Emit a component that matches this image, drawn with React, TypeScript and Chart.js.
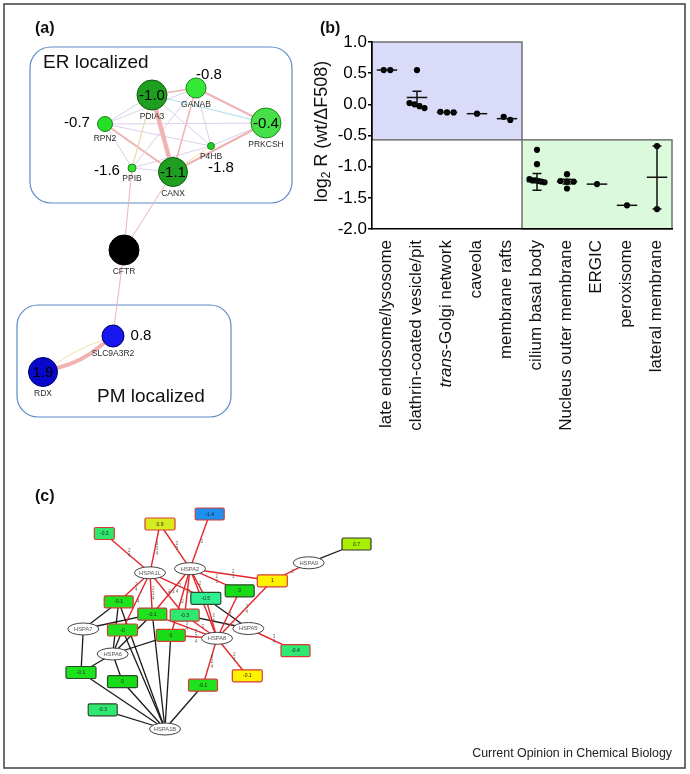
import React, { useEffect, useRef } from "react";
import { Chart, registerables } from "chart.js";

Chart.register(...registerables);

const FONT = "'Liberation Sans', Arial, Helvetica, sans-serif";

// ---------------- Panel (b): log2 R per localisation ----------------
const locations = [
  "late endosome/lysosome",
  "clathrin-coated vesicle/pit",
  "trans-Golgi network",
  "caveola",
  "membrane rafts",
  "cilium basal body",
  "Nucleus outer membrane",
  "ERGIC",
  "peroxisome",
  "lateral membrane",
];
const italicPrefixes = ["", "", "trans", "", "", "", "", "", "", ""];
const log2R: number[][] = [
  [0.55, 0.55],
  [0.55, 0.02, -0.06, -0.03, 0.0],
  [-0.13, -0.13, -0.12],
  [-0.15],
  [-0.25, -0.2],
  [-0.73, -0.96, -1.2, -1.22, -1.23, -1.24, -1.25, -1.22],
  [-1.12, -1.23, -1.24, -1.24, -1.35],
  [-1.28],
  [-1.62],
  [-0.67, -1.68],
];
const meanLog2R = [0.55, 0.11, -0.13, -0.15, -0.23, -1.24, -1.24, -1.28, -1.62, -1.17];
const errLow: (number | null)[] = [null, 0.0, null, null, null, -1.38, -1.28, null, null, -1.68];
const errHigh: (number | null)[] = [null, 0.21, null, null, null, -1.11, -1.2, null, null, -0.67];
const yMin = -2.0;
const yMax = 1.0;
const yStep = 0.5;
// shaded groups: [first category, last category + 1], value range
const shadeFrom = [0, 5];
const shadeTo = [5, 10];
const shadeTop = [1.0, -0.57];
const shadeBottom = [-0.57, -2.0];
const shadeFill = ["#dadaf9", "#dbf9db"];

// ---------------- Panel (a): ER / PM interaction network ----------------
const erNodes = ["PDIA3", "GANAB", "PRKCSH", "RPN2", "P4HB", "PPIB", "CANX", "CFTR", "SLC9A3R2", "RDX"];
const erX = [152, 196, 266, 105, 211, 132, 173, 124, 113, 43];
const erY = [95, 88, 123, 124, 146, 168, 172, 250, 336, 372];
const erSize = [15, 10, 15, 7.5, 3.5, 4, 14.5, 15, 11, 14.5];
const erValue: (number | null)[] = [-1.0, -0.8, -0.4, -0.7, -1.8, -1.6, -1.1, null, 0.8, 1.9];
const erFill = ["#1f9f1f", "#35e835", "#48e048", "#25de25", "#22cc22", "#33dd33", "#1f9f1f", "#000000", "#1616ee", "#0808cc"];
const erStroke = ["#0c5c0c", "#1a8a1a", "#1a8a1a", "#1a8a1a", "#1a8a1a", "#1a8a1a", "#0c5c0c", "#000000", "#000066", "#000066"];
const erValueDX = [0, 13, 0, -28, 10, -25, 0, 0, 28, 0];
const erValueDY = [0, -14, 0, -2, 21, 2, 0, 0, -1, 0];

const PINK = "#efb3b3";
const LILAC = "#dcd0ea";
const SKY = "#abdfee";
const STRAW = "#f2e1a2";
const erEdgeFrom = [0, 0, 0, 0, 0, 0, 1, 1, 1, 1, 1, 3, 3, 3, 6, 6, 6, 5, 4, 3, 5, 5, 6, 7, 8, 8];
const erEdgeTo = [6, 1, 3, 5, 4, 2, 2, 6, 4, 3, 5, 6, 4, 2, 2, 4, 5, 4, 2, 5, 7, 0, 7, 8, 9, 9];
const erEdgeColor = [PINK, PINK, LILAC, STRAW, LILAC, SKY, PINK, PINK, LILAC, LILAC, LILAC, PINK, LILAC, LILAC, PINK, STRAW, LILAC, LILAC, LILAC, LILAC, PINK, LILAC, PINK, PINK, PINK, STRAW];
const erEdgeWidth = [4.5, 1.5, 1, 1, 1, 1, 2, 1.5, 1, 1, 1, 2, 1, 1, 2, 1, 1, 1, 1, 1, 1, 1, 1, 1, 4, 1];
const erEdgeBend = [0, 0, 0, 0, 0, 0, 0, 0, 0, 0, 0, 0, 0, 0, 0, 0, 0, 0, 0, 0, 0, 0, 0, 0, -6, 3];

const compartments = ["ER localized", "PM localized"];
const compLeft = [30, 17];
const compTop = [47, 305];
const compRight = [292, 231];
const compBottom = [203, 417];
const compTextX = [43, 97];
const compTextY = [68, 402];

// ---------------- Panel (c): HSP70 family network ----------------
const hspGenes = ["HSPA1L", "HSPA2", "HSPA9", "HSPA7", "HSPA8", "HSPA5", "HSPA6", "HSPA1B"];
const hspX = [150, 190, 308.7, 83.3, 217, 248.3, 112.7, 165];
const hspY = [572.8, 568.7, 562.8, 629, 638.3, 628.5, 654, 729];
const tgtLabels = ["-0.3", "0.9", "-1.4", "0.7", "1", "0", "-0.5", "-0.1", "-0.1", "-0.3", "-0", "0", "-0.4", "-0.1", "0", "-0.1", "-0.1", "-0.3"];
const tgtX = [104.3, 160, 209.7, 356.5, 272.3, 239.7, 205.8, 118.7, 152.3, 184.7, 122.5, 170.8, 295.5, 81, 122.5, 247.3, 203, 102.7];
const tgtY = [533.5, 524, 514, 544, 580.8, 590.8, 598.3, 601.8, 614.2, 615.2, 630, 635.3, 650.7, 672.5, 681.7, 675.8, 685.2, 709.8];
const tgtW = [20, 30, 29, 29, 30, 29, 30, 29, 29, 29, 30, 29, 29, 30, 30, 30, 29, 29];
const tgtFill = ["#2ee86c", "#d7ec1f", "#1f8ff0", "#a8f000", "#fff200", "#18dc18", "#2ef091", "#1ee21e", "#1ee21e", "#2ee870", "#1ee21e", "#18dc18", "#2ee870", "#1ee21e", "#18dc18", "#fff200", "#1ee21e", "#2ee870"];
const tgtStroke = ["#d83a3a", "#d83a3a", "#d83a3a", "#333333", "#d83a3a", "#2a4a2a", "#2a4a2a", "#d83a3a", "#b83a3a", "#d83a3a", "#d83a3a", "#d83a3a", "#d83a3a", "#2a4a2a", "#2a4a2a", "#d83a3a", "#d83a3a", "#2a4a2a"];

const redEdgeFrom = ["HSPA1L", "HSPA1L", "HSPA2", "HSPA2", "HSPA2", "HSPA2", "HSPA2", "HSPA2", "HSPA2", "HSPA2", "HSPA1L", "HSPA1L", "HSPA1L", "HSPA1L", "HSPA1L", "HSPA8", "HSPA8", "HSPA8", "HSPA8", "HSPA8", "HSPA8", "HSPA8", "HSPA8", "HSPA5", "HSPA9", "HSPA2"];
const redEdgeTo = ["t0", "t1", "t1", "t2", "t4", "t5", "t6", "t8", "t9", "t11", "t7", "t10", "t8", "t9", "t6", "t4", "t5", "t6", "t9", "t11", "t8", "t15", "t16", "t12", "t4", "HSPA8"];
const redEdgeText = ["2\n4", "3\n3\n4", "2\n3", "3", "2\n3", "2\n3", "2", "2 3 4", "3", "2", "2\n4", "4", "2\n3\n4", "3", "2", "2\n4", "2", "3\n4", "3", "2\n3\n4", "3\n4", "2\n4", "3\n2\n4", "3\n4", "2", "3"];
const blackEdgeFrom = ["HSPA9", "HSPA5", "HSPA5", "HSPA7", "HSPA7", "HSPA7", "HSPA6", "HSPA6", "HSPA6", "HSPA6", "HSPA6", "HSPA6", "HSPA1B", "HSPA1B", "HSPA1B", "HSPA1B", "HSPA1B", "HSPA1B", "HSPA1B", "HSPA1B"];
const blackEdgeTo = ["t3", "t6", "t9", "t7", "t8", "t13", "t7", "t10", "t8", "t11", "t13", "t14", "t7", "t10", "t8", "t11", "t13", "t14", "t17", "t16"];

const FRAME = [4, 4, 685, 768];
const footer = "Current Opinion in Chemical Biology";

// ---------------- helpers ----------------
function roundRectPath(ctx: CanvasRenderingContext2D, x0: number, y0: number, x1: number, y1: number, r: number) {
  ctx.beginPath();
  ctx.moveTo(x0 + r, y0);
  ctx.lineTo(x1 - r, y0);
  ctx.arcTo(x1, y0, x1, y0 + r, r);
  ctx.lineTo(x1, y1 - r);
  ctx.arcTo(x1, y1, x1 - r, y1, r);
  ctx.lineTo(x0 + r, y1);
  ctx.arcTo(x0, y1, x0, y1 - r, r);
  ctx.lineTo(x0, y0 + r);
  ctx.arcTo(x0, y0, x0 + r, y0, r);
  ctx.closePath();
}

function hspPoint(ref: string) {
  if (ref.startsWith("t")) {
    const i = parseInt(ref.slice(1), 10);
    return { x: tgtX[i], y: tgtY[i] };
  }
  const g = hspGenes.indexOf(ref);
  return { x: hspX[g], y: hspY[g] };
}

function swarmOffsets(values: number[]): number[] {
  const idx = values.map((_, i) => i).sort((a, b) => values[b] - values[a]);
  const offsets = new Array(values.length).fill(0);
  let group = [idx[0]];
  const flush = () => {
    const n = group.length;
    const step = n <= 3 ? 0.22 : 0.5 / (n - 1);
    group.forEach((k, j) => (offsets[k] = (j - (n - 1) / 2) * step));
  };
  for (let j = 1; j < idx.length; j++) {
    if (values[idx[j - 1]] - values[idx[j]] <= 0.06) group.push(idx[j]);
    else {
      flush();
      group = [idx[j]];
    }
  }
  flush();
  return offsets;
}

const fmt1 = (v: number) => v.toFixed(1);

// ---------------- network chart (panels a & c + page decorations) ----------------
function networkConfig(): any {
  const datasets: any[] = [];
  datasets.push({
    type: "bubble",
    label: "erNodes",
    data: erNodes.map((_, i) => ({ x: erX[i], y: erY[i], r: erSize[i] })),
    backgroundColor: erFill,
    borderColor: erStroke,
    borderWidth: 1,
    order: 0,
  });
  datasets.push({
    type: "scatter",
    label: "hspGenes",
    data: hspGenes.map((_, i) => ({ x: hspX[i], y: hspY[i] })),
    pointRadius: 0,
    order: 0,
  });
  datasets.push({
    type: "scatter",
    label: "hspTargets",
    data: tgtLabels.map((_, i) => ({ x: tgtX[i], y: tgtY[i] })),
    pointRadius: 0,
    order: 0,
  });
  erEdgeFrom.forEach((f, i) => {
    const t = erEdgeTo[i];
    const a = { x: erX[f], y: erY[f] };
    const b = { x: erX[t], y: erY[t] };
    let data: any[] = [a, b];
    const bend = erEdgeBend[i];
    if (bend !== 0) {
      const dx = b.x - a.x;
      const dy = b.y - a.y;
      const len = Math.hypot(dx, dy);
      data = [a, { x: (a.x + b.x) / 2 - (dy / len) * bend, y: (a.y + b.y) / 2 + (dx / len) * bend }, b];
    }
    datasets.push({
      type: "line",
      data,
      borderColor: erEdgeColor[i],
      borderWidth: erEdgeWidth[i],
      pointRadius: 0,
      fill: false,
      tension: bend !== 0 ? 0.5 : 0,
      order: 2,
    });
  });
  redEdgeFrom.forEach((f, i) => {
    datasets.push({
      type: "line",
      data: [hspPoint(f), hspPoint(redEdgeTo[i])],
      borderColor: "#e3262b",
      borderWidth: 1.4,
      pointRadius: 0,
      fill: false,
      order: 3,
    });
  });
  blackEdgeFrom.forEach((f, i) => {
    datasets.push({
      type: "line",
      data: [hspPoint(f), hspPoint(blackEdgeTo[i])],
      borderColor: "#1a1a1a",
      borderWidth: 1.3,
      pointRadius: 0,
      fill: false,
      order: 4,
    });
  });

  const decor = {
    id: "networkDecor",
    beforeDraw(chart: any) {
      const { ctx } = chart;
      const xs = chart.scales.x;
      const ys = chart.scales.y;
      const px = (v: number) => xs.getPixelForValue(v);
      const py = (v: number) => ys.getPixelForValue(v);
      ctx.save();
      ctx.fillStyle = "#ffffff";
      ctx.fillRect(0, 0, chart.width, chart.height);
      // outer frame
      ctx.strokeStyle = "#4a4a4a";
      ctx.lineWidth = 1.6;
      ctx.strokeRect(px(FRAME[0]), py(FRAME[1]), px(FRAME[2]) - px(FRAME[0]), py(FRAME[3]) - py(FRAME[1]));
      // compartments
      compartments.forEach((name, i) => {
        roundRectPath(ctx, px(compLeft[i]), py(compTop[i]), px(compRight[i]), py(compBottom[i]), 21);
        ctx.strokeStyle = "#5b8cc6";
        ctx.lineWidth = 1.2;
        ctx.stroke();
        ctx.font = `19px ${FONT}`;
        ctx.fillStyle = "#111";
        ctx.textAlign = "left";
        ctx.textBaseline = "alphabetic";
        ctx.fillText(name, px(compTextX[i]), py(compTextY[i]));
      });
      // panel letters
      ctx.font = `bold 16px ${FONT}`;
      ctx.fillStyle = "#111";
      ctx.fillText("(a)", px(35), py(33));
      ctx.fillText("(b)", px(320), py(33));
      ctx.fillText("(c)", px(35), py(501));
      // footer
      ctx.font = `12.4px ${FONT}`;
      ctx.textAlign = "right";
      ctx.fillStyle = "#222";
      ctx.fillText(footer, px(672), py(757));
      ctx.restore();
    },
    afterDatasetsDraw(chart: any) {
      const { ctx } = chart;
      const meta = (label: string) => chart.getDatasetMeta(chart.data.datasets.findIndex((d: any) => d.label === label));
      ctx.save();
      ctx.textAlign = "center";
      ctx.textBaseline = "middle";
      // panel (a) labels
      meta("erNodes").data.forEach((el: any, i: number) => {
        const v = erValue[i];
        if (v !== null) {
          ctx.font = `15px ${FONT}`;
          ctx.fillStyle = "#000";
          ctx.fillText(fmt1(v), el.x + erValueDX[i], el.y + erValueDY[i] + 0.5);
        }
        ctx.font = `8.5px ${FONT}`;
        ctx.fillStyle = "#2a2a2a";
        ctx.fillText(erNodes[i], el.x, el.y + erSize[i] + 7);
      });
      // panel (c) edge labels
      const xs = chart.scales.x;
      const ys = chart.scales.y;
      ctx.font = `4.5px ${FONT}`;
      ctx.fillStyle = "#666";
      redEdgeFrom.forEach((f, i) => {
        const a = hspPoint(f);
        const b = hspPoint(redEdgeTo[i]);
        const mx = xs.getPixelForValue((a.x + b.x) / 2);
        const my = ys.getPixelForValue((a.y + b.y) / 2);
        const lines = redEdgeText[i].split("\n");
        lines.forEach((t, k) => ctx.fillText(t, mx + 2, my + (k - (lines.length - 1) / 2) * 5));
      });
      // gene ellipses
      meta("hspGenes").data.forEach((el: any, i: number) => {
        ctx.beginPath();
        ctx.ellipse(el.x, el.y, 15.5, 6, 0, 0, Math.PI * 2);
        ctx.fillStyle = "#ffffff";
        ctx.fill();
        ctx.strokeStyle = "#444";
        ctx.lineWidth = 1;
        ctx.stroke();
        ctx.font = `5.8px ${FONT}`;
        ctx.fillStyle = "#555";
        ctx.fillText(hspGenes[i], el.x, el.y + 0.3);
      });
      // value boxes
      meta("hspTargets").data.forEach((el: any, i: number) => {
        const w = tgtW[i];
        const h = 12;
        roundRectPath(ctx, el.x - w / 2, el.y - h / 2, el.x + w / 2, el.y + h / 2, 1.5);
        ctx.fillStyle = tgtFill[i];
        ctx.fill();
        ctx.strokeStyle = tgtStroke[i];
        ctx.lineWidth = 1.2;
        ctx.stroke();
        ctx.font = `5px ${FONT}`;
        ctx.fillStyle = "#222";
        ctx.fillText(tgtLabels[i], el.x, el.y + 0.3);
      });
      ctx.restore();
    },
  };

  return {
    type: "scatter",
    data: { datasets },
    options: {
      animation: false,
      responsive: false,
      events: [],
      layout: { autoPadding: false, padding: 0 },
      plugins: { legend: { display: false }, tooltip: { enabled: false } },
      scales: {
        x: { type: "linear", display: false, min: 0, max: 690 },
        y: { type: "linear", display: false, min: 0, max: 774, reverse: true },
      },
    },
    plugins: [decor],
  };
}

// ---------------- panel (b) chart ----------------
function scatterConfig(): any {
  const points: { x: number; y: number }[] = [];
  log2R.forEach((vals, i) => {
    const off = swarmOffsets(vals);
    vals.forEach((v, k) => points.push({ x: i + 0.5 + off[k], y: v }));
  });

  const decor = {
    id: "bDecor",
    beforeDraw(chart: any) {
      const { ctx } = chart;
      const xs = chart.scales.x;
      const ys = chart.scales.y;
      ctx.save();
      shadeFrom.forEach((f, i) => {
        const x0 = xs.getPixelForValue(f);
        const x1 = xs.getPixelForValue(shadeTo[i]);
        const y0 = ys.getPixelForValue(shadeTop[i]);
        const y1 = ys.getPixelForValue(shadeBottom[i]);
        ctx.fillStyle = shadeFill[i];
        ctx.fillRect(x0, y0, x1 - x0, y1 - y0);
        ctx.strokeStyle = "#707070";
        ctx.lineWidth = 1.5;
        ctx.strokeRect(x0, y0, x1 - x0, y1 - y0);
      });
      ctx.restore();
    },
    afterDatasetsDraw(chart: any) {
      const { ctx } = chart;
      const xs = chart.scales.x;
      const ys = chart.scales.y;
      ctx.save();
      ctx.strokeStyle = "#111";
      ctx.lineWidth = 1.5;
      const unit = xs.getPixelForValue(1) - xs.getPixelForValue(0);
      meanLog2R.forEach((m, i) => {
        const cx = xs.getPixelForValue(i + 0.5);
        const hw = unit * 0.34;
        ctx.beginPath();
        ctx.moveTo(cx - hw, ys.getPixelForValue(m));
        ctx.lineTo(cx + hw, ys.getPixelForValue(m));
        ctx.stroke();
        const lo = errLow[i];
        const hi = errHigh[i];
        if (lo !== null && hi !== null) {
          const cw = unit * 0.15;
          const yl = ys.getPixelForValue(lo);
          const yh = ys.getPixelForValue(hi);
          ctx.beginPath();
          ctx.moveTo(cx, yl);
          ctx.lineTo(cx, yh);
          ctx.moveTo(cx - cw, yl);
          ctx.lineTo(cx + cw, yl);
          ctx.moveTo(cx - cw, yh);
          ctx.lineTo(cx + cw, yh);
          ctx.stroke();
        }
      });
      // category labels (rotated)
      const labelTop = chart.chartArea.bottom + 11;
      ctx.fillStyle = "#111";
      ctx.textBaseline = "middle";
      locations.forEach((name, i) => {
        const cx = xs.getPixelForValue(i + 0.5) - 1;
        const pre = italicPrefixes[i];
        const rest = name.slice(pre.length);
        ctx.save();
        ctx.translate(cx, labelTop);
        ctx.rotate(-Math.PI / 2);
        ctx.font = `italic 17px ${FONT}`;
        const w1 = pre ? ctx.measureText(pre).width : 0;
        ctx.font = `17px ${FONT}`;
        const w2 = ctx.measureText(rest).width;
        ctx.textAlign = "left";
        if (pre) {
          ctx.font = `italic 17px ${FONT}`;
          ctx.fillText(pre, -(w1 + w2), 0);
        }
        ctx.font = `17px ${FONT}`;
        ctx.fillText(rest, -w2, 0);
        ctx.restore();
      });
      // y-axis title with subscript
      ctx.save();
      const midY = (chart.chartArea.top + chart.chartArea.bottom) / 2 - 4;
      ctx.translate(22, midY);
      ctx.rotate(-Math.PI / 2);
      ctx.textAlign = "left";
      ctx.textBaseline = "middle";
      ctx.font = `18px ${FONT}`;
      const p1 = "log";
      const p3 = " R (wt/\u0394F508)";
      const w1 = ctx.measureText(p1).width;
      const w3 = ctx.measureText(p3).width;
      ctx.font = `12px ${FONT}`;
      const w2 = ctx.measureText("2").width;
      const start = -(w1 + w2 + w3) / 2;
      ctx.font = `18px ${FONT}`;
      ctx.fillText(p1, start, 0);
      ctx.font = `12px ${FONT}`;
      ctx.fillText("2", start + w1, 5);
      ctx.font = `18px ${FONT}`;
      ctx.fillText(p3, start + w1 + w2, 0);
      ctx.restore();
      ctx.restore();
    },
  };

  return {
    type: "scatter",
    data: {
      datasets: [
        {
          label: "log2 R",
          data: points,
          pointRadius: 3.1,
          backgroundColor: "#000",
          borderWidth: 0,
        },
      ],
    },
    options: {
      animation: false,
      responsive: false,
      events: [],
      layout: { autoPadding: false, padding: { top: 42, right: 18, left: 0, bottom: 0 } },
      plugins: { legend: { display: false }, tooltip: { enabled: false } },
      scales: {
        x: {
          type: "linear",
          min: 0,
          max: locations.length,
          ticks: { display: false },
          grid: { display: false },
          border: { display: true, color: "#000", width: 1.6 },
          afterFit: (s: any) => {
            s.height = 231;
          },
        },
        y: {
          type: "linear",
          min: yMin,
          max: yMax,
          ticks: {
            stepSize: yStep,
            callback: (v: any) => Number(v).toFixed(1),
            font: { size: 17, family: FONT },
            color: "#000",
            padding: 1,
          },
          grid: { display: true, drawOnChartArea: false, drawTicks: true, tickLength: 4, color: "#000", lineWidth: 1.5 },
          border: { display: true, color: "#000", width: 1.6 },
          afterFit: (s: any) => {
            s.width = 72;
          },
        },
      },
    },
    plugins: [decor],
  };
}

export default function App() {
  const netRef = useRef<HTMLCanvasElement>(null);
  const bRef = useRef<HTMLCanvasElement>(null);
  useEffect(() => {
    const net = new Chart(netRef.current as HTMLCanvasElement, networkConfig());
    const b = new Chart(bRef.current as HTMLCanvasElement, scatterConfig());
    return () => {
      net.destroy();
      b.destroy();
    };
  }, []);
  return (
    <div style={{ position: "fixed", left: 0, top: 0, width: 690, height: 774, background: "#fff", overflow: "hidden" }}>
      <canvas ref={netRef} width={690} height={774} style={{ position: "absolute", left: 0, top: 0, width: 690, height: 774 }} />
      <canvas ref={bRef} width={390} height={460} style={{ position: "absolute", left: 300, top: 0, width: 390, height: 460 }} />
    </div>
  );
}
